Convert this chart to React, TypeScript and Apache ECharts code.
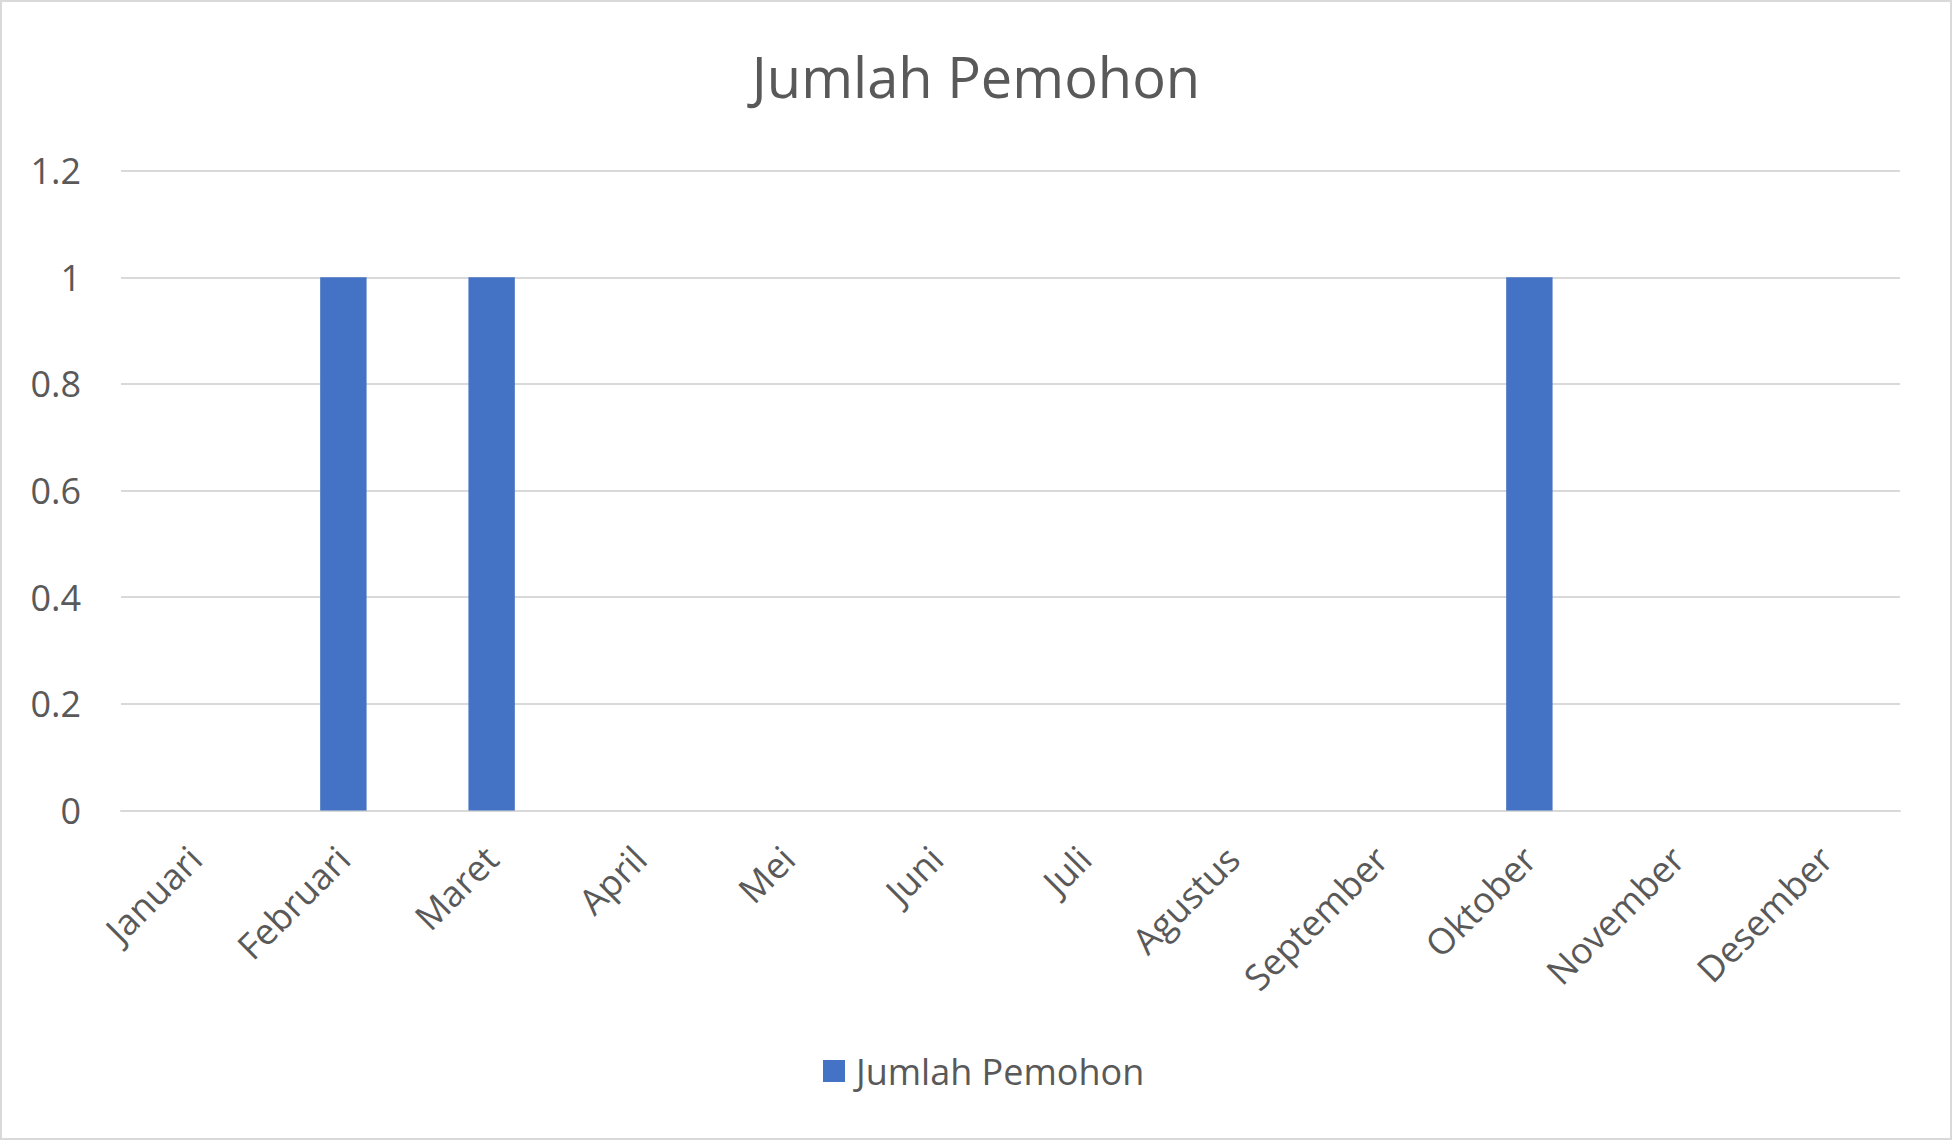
import React, { useEffect, useRef } from "react";
import * as echarts from "echarts";

const categories = [
  "Januari",
  "Februari",
  "Maret",
  "April",
  "Mei",
  "Juni",
  "Juli",
  "Agustus",
  "September",
  "Oktober",
  "November",
  "Desember",
];
const seriesName = "Jumlah Pemohon";
const values = [0, 1, 1, 0, 0, 0, 0, 0, 0, 1, 0, 0];
const chartTitle = "Jumlah Pemohon";

const FONT = "'Open Sans', 'Noto Sans', sans-serif";
const TEXT = "#595959";
const GRID = "#d9d9d9";

export default function App() {
  const ref = useRef<HTMLDivElement>(null);
  useEffect(() => {
    document.body.style.margin = "0";
    const chart = echarts.init(ref.current!, null, { renderer: "svg" });
    chart.setOption({
      animation: false,
      backgroundColor: "#ffffff",
      textStyle: { fontFamily: FONT, color: TEXT },
      title: {
        text: chartTitle,
        left: "center",
        top: 43,
        textStyle: { fontFamily: FONT, fontSize: 56, fontWeight: "normal", color: TEXT },
      },
      legend: {
        data: [seriesName],
        left: 818,
        top: 1048,
        icon: "rect",
        itemWidth: 22,
        itemHeight: 22,
        itemGap: 10,
        textStyle: { fontFamily: FONT, fontSize: 36, color: TEXT, padding: [0, 0, 0, 6] },
      },
      grid: { left: 121, right: 52, top: 170.6, bottom: 329.5, containLabel: false },
      xAxis: {
        type: "category",
        data: categories,
        axisLine: { show: true, lineStyle: { color: GRID, width: 2 } },
        axisTick: { show: false },
        axisLabel: {
          rotate: 45,
          interval: 0,
          margin: 42,
          fontFamily: FONT,
          fontSize: 36,
          color: TEXT,
        },
      },
      yAxis: {
        type: "value",
        min: 0,
        max: 1.2,
        interval: 0.2,
        axisLine: { show: false },
        axisTick: { show: false },
        splitLine: { lineStyle: { color: GRID, width: 2 } },
        axisLabel: {
          margin: 40,
          fontFamily: FONT,
          fontSize: 36,
          color: TEXT,
          formatter: (v: number) => String(Math.round(v * 10) / 10),
        },
      },
      series: [
        {
          name: seriesName,
          type: "bar",
          data: values,
          barWidth: "31.3%",
          itemStyle: { color: "#4472C4" },
        },
      ],
      graphic: [
        {
          type: "rect",
          shape: { x: 1, y: 1, width: 1950, height: 1138 },
          style: { fill: "none", stroke: GRID, lineWidth: 2 },
          silent: true,
        },
      ],
    });
    return () => chart.dispose();
  }, []);
  return <div ref={ref} style={{ width: 1952, height: 1140 }} />;
}
